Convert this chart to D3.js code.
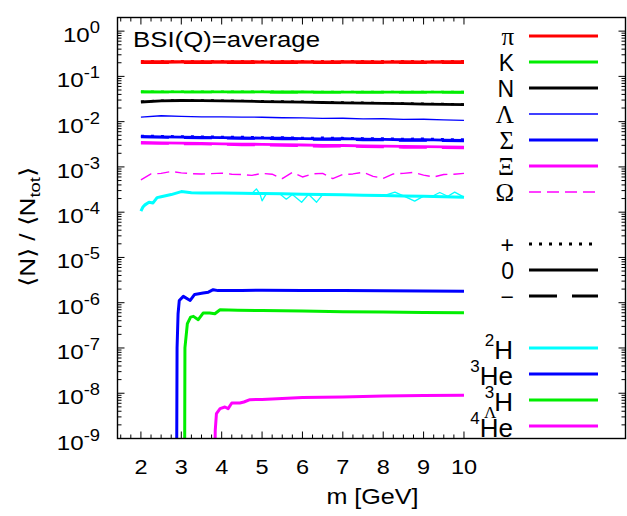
<!DOCTYPE html>
<html><head><meta charset="utf-8">
<script src="https://cdn.jsdelivr.net/npm/d3@7"></script>
<style>body{margin:0;background:#fff}svg{display:block}</style>
</head><body>
<script>
// ---------------- DATA ----------------
const massGrid = [2.0,2.5,3.0,3.5,4.0,4.5,5.0,5.5,6.0,6.5,7.0,7.5,8.0,8.5,9.0,9.5,10.0];
const massFine = [2.0,2.25,2.5,2.75,3.0,3.25,3.5,3.75,4.0,4.25,4.5,4.75,5.0,5.25,5.5,5.75,6.0,6.25,6.5,6.75,7.0,7.25,7.5,7.75,8.0,8.25,8.5,8.75,9.0,9.25,9.5,9.75,10.0];

const piPlus  = [0.214,0.215,0.214,0.215,0.214,0.214,0.215,0.214,0.214,0.215,0.214,0.214,0.215,0.214,0.214,0.215,0.214];
const piZero  = [0.208,0.208,0.209,0.208,0.208,0.208,0.207,0.208,0.208,0.207,0.208,0.208,0.207,0.208,0.207,0.208,0.208];
const piMinus = [0.202,0.201,0.202,0.202,0.201,0.202,0.202,0.201,0.202,0.202,0.201,0.202,0.201,0.202,0.202,0.201,0.202];

const kPlus  = [0.0464,0.0463,0.0462,0.0461,0.0461,0.0460,0.0459,0.0458,0.0458,0.0457,0.0456,0.0456,0.0455,0.0455,0.0454,0.0454,0.0453];
const kZero  = [0.0458,0.0457,0.0456,0.0455,0.0455,0.0454,0.0453,0.0452,0.0452,0.0451,0.0450,0.0450,0.0449,0.0449,0.0448,0.0448,0.0447];
const kMinus = [0.0451,0.0450,0.0449,0.0448,0.0448,0.0447,0.0446,0.0445,0.0445,0.0444,0.0443,0.0443,0.0442,0.0442,0.0441,0.0441,0.0440];

const nPlus = [0.0278,0.0293,0.0298,0.0297,0.0293,0.0289,0.0284,0.0280,0.0276,0.0271,0.0266,0.0262,0.0258,0.0254,0.0250,0.0246,0.0242];
const nZero = [0.0272,0.0288,0.0293,0.0291,0.0287,0.0283,0.0278,0.0274,0.0270,0.0265,0.0261,0.0257,0.0253,0.0249,0.0245,0.0241,0.0237];

const lambdaZero = [0.0126,0.0135,0.0131,0.0128,0.0127,0.0126,0.0125,0.0122,0.0121,0.0118,0.0119,0.0115,0.0116,0.0112,0.0113,0.0110,0.0107];

const sigmaPlus  = [0.00485,0.00480,0.00470,0.00468,0.00460,0.00458,0.00448,0.00450,0.00438,0.00440,0.00434,0.00428,0.00426,0.00416,0.00420,0.00408,0.00403];
const sigmaZero  = [0.00470,0.00462,0.00455,0.00450,0.00443,0.00438,0.00433,0.00430,0.00422,0.00418,0.00420,0.00410,0.00405,0.00398,0.00400,0.00390,0.00385];
const sigmaMinus = [0.00455,0.00450,0.00442,0.00434,0.00430,0.00422,0.00420,0.00412,0.00410,0.00400,0.00404,0.00394,0.00392,0.00382,0.00386,0.00376,0.00372];

const xiZero  = [0.00348,0.00340,0.00334,0.00330,0.00324,0.00320,0.00315,0.00310,0.00305,0.00300,0.00297,0.00293,0.00289,0.00284,0.00281,0.00278,0.00273];
const xiMinus = [0.00334,0.00330,0.00322,0.00318,0.00314,0.00306,0.00304,0.00296,0.00292,0.00282,0.00285,0.00278,0.00276,0.00268,0.00270,0.00264,0.00262];

const omegaMinus = [5.2e-4,7.0e-4,7.2e-4,7.9e-4,7.4e-4,7.1e-4,7.0e-4,7.1e-4,7.3e-4,6.9e-4,6.8e-4,6.5e-4,7.2e-4,6.9e-4,5.5e-4,7.6e-4,6.0e-4,7.0e-4,7.2e-4,5.5e-4,6.8e-4,7.0e-4,7.6e-4,6.2e-4,5.6e-4,7.0e-4,7.2e-4,7.6e-4,6.6e-4,6.0e-4,6.8e-4,6.9e-4,7.2e-4];

const h2Mass = [2.0,2.05,2.1,2.2,2.3,2.4,2.5,2.75,3.0,3.25,3.5,4.0,4.5,5.0,5.5,6.0,6.5,7.0,7.5,8.0,8.5,9.0,9.5,10.0];
const h2Val  = [1.05e-4,1.3e-4,1.45e-4,1.66e-4,1.6e-4,2.1e-4,2.2e-4,2.45e-4,2.85e-4,2.7e-4,2.66e-4,2.64e-4,2.62e-4,2.58e-4,2.54e-4,2.5e-4,2.46e-4,2.42e-4,2.37e-4,2.33e-4,2.28e-4,2.24e-4,2.19e-4,2.15e-4];
const h2NoisyMass = [4.6,4.75,4.86,4.95,5.0,5.11,5.3,5.45,5.6,5.75,5.98,6.15,6.35,6.5,6.8,7.2,7.6,8.0,8.29,8.5,8.78,9.0,9.2,9.4,9.6,9.77,10.0];
const h2NoisyVal  = [2.6e-4,2.6e-4,3.28e-4,2.5e-4,1.78e-4,2.6e-4,2.52e-4,2.5e-4,1.94e-4,2.47e-4,1.66e-4,2.48e-4,1.66e-4,2.45e-4,2.42e-4,2.38e-4,2.36e-4,2.3e-4,2.77e-4,2.3e-4,1.75e-4,2.26e-4,2.22e-4,2.72e-4,2.25e-4,2.77e-4,2.15e-4];

const he3Mass = [2.875,2.895,2.92,2.95,3.05,3.22,3.33,3.54,3.67,3.79,3.91,4.5,5.0,6.0,7.0,8.0,9.0,10.0];
const he3Val  = [1e-12,1.0e-7,5.7e-7,1.12e-6,1.38e-6,1.12e-6,1.52e-6,1.63e-6,1.71e-6,1.94e-6,1.85e-6,1.87e-6,1.88e-6,1.87e-6,1.86e-6,1.84e-6,1.82e-6,1.80e-6];

const h3LMass = [3.075,3.09,3.15,3.23,3.3,3.42,3.54,3.7,3.83,3.96,4.4,5.0,6.0,7.0,8.0,9.0,10.0];
const h3LVal  = [1e-12,1.0e-7,3.44e-7,4.81e-7,4.99e-7,4.21e-7,5.9e-7,5.9e-7,5.71e-7,7.0e-7,6.8e-7,6.7e-7,6.55e-7,6.35e-7,6.2e-7,6.1e-7,6.0e-7];

const he4LMass = [3.815,3.84,3.87,3.96,4.08,4.16,4.25,4.45,4.55,4.7,5.0,6.0,7.0,7.5,8.0,9.0,10.0];
const he4LVal  = [1e-12,1.5e-9,3.55e-9,4.57e-9,4.96e-9,4.57e-9,6.08e-9,6.1e-9,6.4e-9,7.2e-9,7.3e-9,8.0e-9,8.3e-9,8.5e-9,8.7e-9,8.9e-9,9.0e-9];

const xTickValues = [2,3,4,5,6,7,8,9,10];
const yTickExponents = [0,-1,-2,-3,-4,-5,-6,-7,-8,-9];
const hadronLabels = ['π','K','N','Λ','Σ','Ξ','Ω'];
const chargeLabels = ['+','0','−'];
const nucleusLabels = [{sup:'2',sub:'',base:'H'},{sup:'3',sub:'',base:'He'},{sup:'3',sub:'Λ',base:'H'},{sup:'4',sub:'',base:'He'}];
const titleText = 'BSI(Q)=average';

// ---------------- STYLE / LAYOUT ----------------
const W=627,H=516;
const L=117.5,R=625.5,T=17.5,B=438.5;
const SANS="'Liberation Sans', Arial, Helvetica, sans-serif";
const SERIF="'Liberation Serif', 'Times New Roman', serif";
const RED='#ff0000',GREEN='#00ee00',BLACK='#000000',BLUE='#0000ff',MAG='#ff00ff',CYAN='#00ffff';
const DOT='3,7', DASH='28,15', OMDASH='12,6';

const svg=d3.select('body').append('svg').attr('width',W).attr('height',H);
const x=d3.scaleLinear().domain([1.42,14.0]).range([L,R]);
const y=d3.scaleLog().domain([1e-9,2]).range([B,T]);

svg.append('clipPath').attr('id','clip').append('rect').attr('x',L).attr('y',T).attr('width',R-L).attr('height',B-T);
const plot=svg.append('g').attr('clip-path','url(#clip)');

const line=d3.line().x(d=>x(d[0])).y(d=>y(d[1]));
function series(m,v,color,w,dash){
  plot.append('path').datum(m.map((mm,i)=>[mm,v[i]]))
    .attr('d',line).attr('fill','none').attr('stroke',color).attr('stroke-width',w)
    .attr('stroke-dasharray',dash||null).attr('stroke-linejoin','round');
}
// hadrons
series(massGrid,piZero,RED,3.4);
series(massGrid,piPlus,RED,2.8,DOT);
series(massGrid,piMinus,RED,2.8,DASH);
series(massGrid,kZero,GREEN,2.8);
series(massGrid,kPlus,GREEN,2.2,DOT);
series(massGrid,kMinus,GREEN,2.2,DASH);
series(massGrid,nZero,BLACK,2.8);
series(massGrid,nPlus,BLACK,2.2,DOT);
series(massGrid,lambdaZero,BLUE,1.3);
series(massGrid,sigmaZero,BLUE,2.8);
series(massGrid,sigmaPlus,BLUE,2.4,DOT);
series(massGrid,sigmaMinus,BLUE,2.4,DASH);
series(massGrid,xiZero,MAG,2.8);
series(massGrid,xiMinus,MAG,2.4,DASH);
series(massFine,omegaMinus,MAG,1.4,OMDASH);
// nuclei
series(h2NoisyMass,h2NoisyVal,CYAN,1.3);
series(h2Mass,h2Val,CYAN,3);
series(he3Mass,he3Val,BLUE,3);
series(h3LMass,h3LVal,GREEN,3);
series(he4LMass,he4LVal,MAG,3);

// ---------------- AXES / FRAME ----------------
const axG=svg.append('g').attr('stroke','#000').attr('stroke-width',1);
yTickExponents.forEach(k=>{
  const v=Math.pow(10,k);
  const yy=y(v);
  axG.append('line').attr('x1',L).attr('x2',L+7).attr('y1',yy).attr('y2',yy);
  axG.append('line').attr('x1',R).attr('x2',R-7).attr('y1',yy).attr('y2',yy);
  for(let j=2;j<=9;j++){
    const mv=j*v; if(mv>2) continue;
    const my=y(mv);
    axG.append('line').attr('x1',L).attr('x2',L+4).attr('y1',my).attr('y2',my);
    axG.append('line').attr('x1',R).attr('x2',R-4).attr('y1',my).attr('y2',my);
  }
  const g=svg.append('g').attr('transform',`translate(100,${yy+11}) scale(1.15,1)`);
  const t=g.append('text').attr('text-anchor','end').attr('font-family',SANS).attr('font-size',21).attr('fill','#000');
  t.append('tspan').text('10');
  t.append('tspan').attr('font-size',16).attr('dy',-9).text(String(k));
});
for(let m=1.5;m<=10.001;m+=0.25){
  const major=Math.abs(m-Math.round(m))<1e-6;
  const xx=x(m), len=major?7:4;
  axG.append('line').attr('x1',xx).attr('x2',xx).attr('y1',B).attr('y2',B-len);
  axG.append('line').attr('x1',xx).attr('x2',xx).attr('y1',T).attr('y2',T+len);
}
xTickValues.forEach(v=>{
  const g=svg.append('g').attr('transform',`translate(${x(v)},473.5) scale(1.12,1)`);
  g.append('text').attr('text-anchor','middle').attr('font-family',SANS).attr('font-size',21).attr('fill','#000').text(v);
});
svg.append('rect').attr('x',L).attr('y',T).attr('width',R-L).attr('height',B-T)
  .attr('fill','none').attr('stroke','#000').attr('stroke-width',1.4);

// axis labels
svg.append('g').attr('transform',`translate(${(L+R)/2+1},503.5) scale(1.17,1)`)
  .append('text').attr('text-anchor','middle').attr('font-family',SANS).attr('font-size',21.5).text('m [GeV]');
const yl=svg.append('g').attr('transform','translate(27,227) rotate(-90) scale(1.22,1)')
  .append('text').attr('text-anchor','middle').attr('y',7.5).attr('font-family',SANS).attr('font-size',21.5);
yl.append('tspan').text('⟨N⟩ / ⟨N');
yl.append('tspan').attr('font-size',15).attr('dy',5).text('tot');
yl.append('tspan').attr('dy',-5).text('⟩');

// title
svg.append('text').attr('x',133).attr('y',47).attr('font-family',SANS).attr('font-size',22.5)
  .attr('textLength',187).attr('lengthAdjust','spacingAndGlyphs').text(titleText);

// ---------------- LEGEND ----------------
const rowY=i=>36+26*i, LX1=529, LX2=598, LABR=514;
const hadronStyles=[[RED,3.2,null],[GREEN,3,null],[BLACK,3,null],[BLUE,1.3,null],[BLUE,3,null],[MAG,3,null],[MAG,1.4,OMDASH]];
hadronLabels.forEach((lab,i)=>{
  const yy=rowY(i);
  const serif=(lab!=='K'&&lab!=='N');
  svg.append('text').attr('x',LABR).attr('y',yy+9).attr('text-anchor','end')
    .attr('font-family',serif?SERIF:SANS).attr('font-size',serif?25:23).text(lab);
  const s=hadronStyles[i];
  svg.append('line').attr('x1',LX1).attr('x2',LX2).attr('y1',yy).attr('y2',yy)
    .attr('stroke',s[0]).attr('stroke-width',s[1]).attr('stroke-dasharray',s[2]);
});
const chargeStyles=[DOT,null,DASH];
chargeLabels.forEach((lab,i)=>{
  const yy=rowY(8+i);
  svg.append('text').attr('x',LABR).attr('y',yy+9).attr('text-anchor','end')
    .attr('font-family',SANS).attr('font-size',23).text(lab);
  svg.append('line').attr('x1',LX1).attr('x2',LX2).attr('y1',yy).attr('y2',yy)
    .attr('stroke','#000').attr('stroke-width',3).attr('stroke-dasharray',chargeStyles[i]);
});
const nucColors=[CYAN,BLUE,GREEN,MAG];
nucleusLabels.forEach((n,i)=>{
  const yy=rowY(12+i);
  const bt=svg.append('text').attr('x',LABR-1).attr('y',yy+11).attr('text-anchor','end')
    .attr('font-family',SANS).attr('font-size',26).text(n.base);
  const bw=bt.node().getComputedTextLength();
  svg.append('text').attr('x',LABR-1-bw).attr('y',yy-2).attr('text-anchor','end')
    .attr('font-family',SANS).attr('font-size',17).text(n.sup);
  if(n.sub) svg.append('text').attr('x',LABR-bw+1).attr('y',yy+18).attr('text-anchor','end')
    .attr('font-family',SERIF).attr('font-size',17).text(n.sub);
  svg.append('line').attr('x1',LX1).attr('x2',LX2).attr('y1',yy).attr('y2',yy)
    .attr('stroke',nucColors[i]).attr('stroke-width',3);
});
</script>
</body></html>
